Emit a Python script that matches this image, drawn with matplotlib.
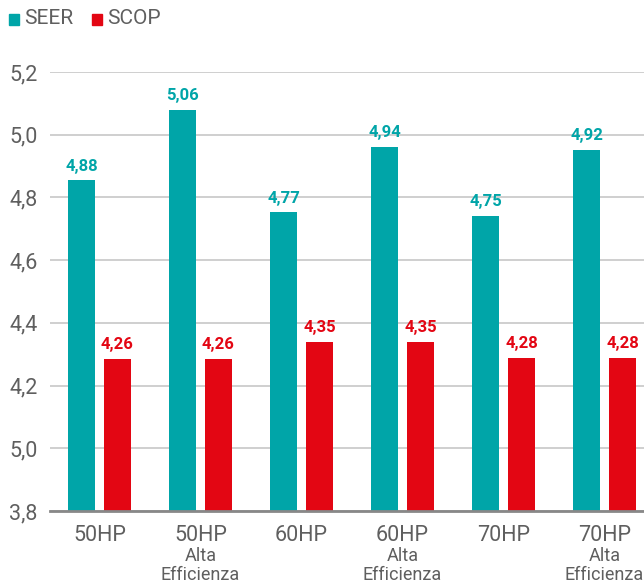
import numpy as np
import matplotlib
matplotlib.use('Agg')
import matplotlib.pyplot as plt
from matplotlib.patches import Rectangle

plt.rcParams['font.family'] = ['Roboto', 'DejaVu Sans']

# data
models = ['50HP', '50HP', '60HP', '60HP', '70HP', '70HP']
subtitles = ['', 'Alta Efficienza', '', 'Alta Efficienza', '', 'Alta Efficienza']
seer = [4.854, 5.078, 4.752, 4.962, 4.740, 4.950]
scop = [4.285, 4.285, 4.340, 4.340, 4.288, 4.288]
seer_labels = ['4,88', '5,06', '4,77', '4,94', '4,75', '4,92']
scop_labels = ['4,26', '4,26', '4,35', '4,35', '4,28', '4,28']
yticks = [3.8, 4.0, 4.2, 4.4, 4.6, 4.8, 5.0, 5.2]
ytick_labels = ['3,8', '5,0', '4,2', '4,4', '4,6', '4,8', '5,0', '5,2']

teal = '#00A5A8'
red = '#E30613'
grey = '#5f5f5f'

fig = plt.figure(figsize=(6.44, 5.84), dpi=100)
ax = fig.add_axes([50/644, 73/584, 594/644, 439/584])

x = np.arange(len(models))
w = 0.267
off = 0.178
b1 = ax.bar(x - off, seer, w, color=teal, zorder=3)
b2 = ax.bar(x + off, scop, w, color=red, zorder=3)

for rect, lab in zip(b1, seer_labels):
    ax.annotate(lab, (rect.get_x() + rect.get_width()/2, rect.get_height()),
                xytext=(0, 5), textcoords='offset points', ha='center', va='bottom',
                color=teal, fontsize=12, fontweight='bold')
for rect, lab in zip(b2, scop_labels):
    ax.annotate(lab, (rect.get_x() + rect.get_width()/2, rect.get_height()),
                xytext=(0, 5), textcoords='offset points', ha='center', va='bottom',
                color=red, fontsize=12, fontweight='bold')

ax.set_ylim(3.8, 5.2)
ax.set_xlim(-0.49, 5.39)
ax.set_yticks(yticks)
ax.set_yticklabels(ytick_labels, fontsize=15.5, color=grey)
ax.tick_params(axis='y', length=0, pad=9)
ax.yaxis.grid(True, color='#cfcfcf', linewidth=1.4, zorder=0)
ax.set_axisbelow(True)

ax.set_xticks(x)
ax.set_xticklabels(models, fontsize=15.5, color=grey)
ax.tick_params(axis='x', length=0, pad=10)
for xi, sub in zip(x, subtitles):
    if sub:
        first, second = sub.split(' ')
        ax.text(xi, -45/439, first, transform=ax.get_xaxis_transform(), ha='center',
                va='center', fontsize=13, color=grey)
        ax.text(xi, -64/439, second, transform=ax.get_xaxis_transform(), ha='center',
                va='center', fontsize=13, color=grey)

for s in ['top', 'right', 'left']:
    ax.spines[s].set_visible(False)
ax.spines['bottom'].set_color('#888888')
ax.spines['bottom'].set_linewidth(2)
ax.spines['bottom'].set_zorder(4)

# legend
fig.patches.append(Rectangle((9/644, 1 - 25/584), 10/644, 11/584, color=teal,
                             transform=fig.transFigure))
fig.text(24/644, 1 - 19/584, 'SEER', color=grey, fontsize=15, va='center', ha='left')
fig.patches.append(Rectangle((92/644, 1 - 25/584), 10/644, 11/584, color=red,
                             transform=fig.transFigure))
fig.text(107/644, 1 - 19/584, 'SCOP', color=grey, fontsize=15, va='center', ha='left')

fig.savefig('out.png', dpi=100)
